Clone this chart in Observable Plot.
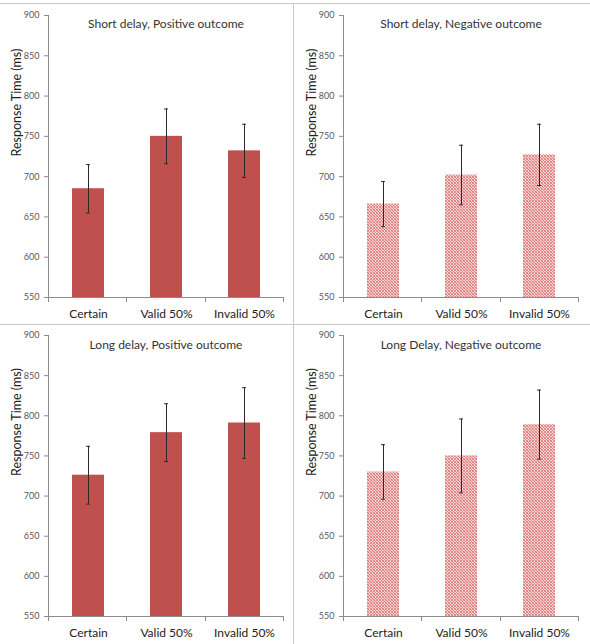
<!DOCTYPE html>
<html>
<head>
<meta charset="utf-8">
<script src="https://cdn.jsdelivr.net/npm/d3@7"></script>
<script src="https://cdn.jsdelivr.net/npm/@observablehq/plot@0.6"></script>
<style>
  html, body { margin: 0; padding: 0; background: #fff; }
  #wrap { position: relative; width: 590px; height: 644px; overflow: hidden; font-family: Lato, "Open Sans", sans-serif; }
  .panel { position: absolute; }
  .line { position: absolute; background: #c8c8c8; }
</style>
</head>
<body>
<div id="wrap">
  <div class="line" style="left:0;top:3px;width:590px;height:1px"></div>
  <div class="line" style="left:293px;top:3px;width:1px;height:641px"></div>
  <div class="line" style="left:0;top:324px;width:590px;height:1px"></div>
</div>
<script>
const categories = ["Certain", "Valid 50%", "Invalid 50%"];
const titles = ["Short delay, Positive outcome", "Short delay, Negative outcome", "Long delay, Positive outcome", "Long Delay, Negative outcome"];
const shortPosMean = [685, 750, 732];
const shortPosErr = [30, 34, 33];
const shortNegMean = [666, 702, 727];
const shortNegErr = [28, 37, 38];
const longPosMean = [726, 779, 791];
const longPosErr = [36, 36, 44];
const longNegMean = [730, 750, 789];
const longNegErr = [34, 46, 43];
const yTicks = [550, 600, 650, 700, 750, 800, 850, 900];
const yLabel = "Response Time (ms)";

const panels = [
  {title: titles[0], mean: shortPosMean, err: shortPosErr, patterned: false, left: 0, top: 0, width: 293, height: 324, ml: 48, mr: 10, mt: 15, mb: 27, titleDy: 4},
  {title: titles[1], mean: shortNegMean, err: shortNegErr, patterned: true, left: 293, top: 0, width: 297, height: 324, ml: 50, mr: 12, mt: 15, mb: 27, titleDy: 4},
  {title: titles[2], mean: longPosMean, err: longPosErr, patterned: false, left: 0, top: 324, width: 293, height: 320, ml: 48, mr: 10, mt: 11, mb: 28, titleDy: 5},
  {title: titles[3], mean: longNegMean, err: longNegErr, patterned: true, left: 293, top: 324, width: 297, height: 320, ml: 50, mr: 12, mt: 11, mb: 28, titleDy: 5}
];

const wrap = document.getElementById("wrap");
const paddingInner = 0.59;
const capWidth = 4;

panels.forEach((p, k) => {
  const data = categories.map((c, i) => ({cat: c, mean: p.mean[i], lo: p.mean[i] - p.err[i], hi: p.mean[i] + p.err[i]}));
  const pid = "checker" + k;
  const frameW = p.width - p.ml - p.mr;
  const bw = frameW / categories.length * (1 - paddingInner);
  const inset = (bw - capWidth) / 2;

  const defsMark = () => {
    const d = d3.create("svg:defs");
    const pat = d.append("pattern").attr("id", pid).attr("width", 3).attr("height", 3).attr("patternUnits", "userSpaceOnUse");
    pat.append("rect").attr("width", 3).attr("height", 3).attr("fill", "#f6d2d2");
    pat.append("rect").attr("x", 0).attr("y", 0).attr("width", 1).attr("height", 1).attr("fill", "#db7c7b");
    pat.append("rect").attr("x", 1).attr("y", 1).attr("width", 1).attr("height", 1).attr("fill", "#db7c7b");
    pat.append("rect").attr("x", 2).attr("y", 2).attr("width", 1).attr("height", 1).attr("fill", "#db7c7b");
    pat.append("rect").attr("x", 2).attr("y", 0).attr("width", 1).attr("height", 1).attr("fill", "#e69e9d");
    pat.append("rect").attr("x", 0).attr("y", 2).attr("width", 1).attr("height", 1).attr("fill", "#e69e9d");
    return d.node();
  };

  const axisDecor = (index, scales) => {
    const x = scales.x, y = scales.y;
    const g = d3.create("svg:g").attr("stroke", "#8c8c8c").attr("stroke-width", 1);
    const [r0, r1] = x.range();
    const n = categories.length;
    const step = (r1 - r0) / n;
    const y0 = y(yTicks[0]);
    const yTop = y(yTicks[yTicks.length - 1]);
    for (let i = 0; i <= n; i++) {
      const xx = Math.round(r0 + i * step) + 0.5;
      g.append("line").attr("x1", xx).attr("x2", xx).attr("y1", y0).attr("y2", y0 + 5);
    }
    const xl = Math.round(r0) + 0.5;
    g.append("line").attr("x1", xl).attr("x2", xl).attr("y1", yTop).attr("y2", y0);
    return g.node();
  };

  const chart = Plot.plot({
    width: p.width,
    height: p.height,
    marginLeft: p.ml,
    marginRight: p.mr,
    marginTop: p.mt,
    marginBottom: p.mb,
    style: {fontFamily: "Lato, 'Open Sans', sans-serif", background: "transparent", overflow: "visible"},
    x: {domain: categories, paddingInner: paddingInner, paddingOuter: paddingInner / 2, label: null},
    y: {domain: [550, 900], label: null},
    marks: [
      defsMark,
      Plot.barY(data, {x: "cat", y1: 550, y2: "mean", fill: p.patterned ? `url(#${pid})` : "#c0504d"}),
      Plot.ruleX(data, {x: "cat", y1: "lo", y2: "hi", stroke: "#2a2a2a", strokeWidth: 1}),
      Plot.tickY(data, {x: "cat", y: "hi", stroke: "#2a2a2a", insetLeft: inset, insetRight: inset}),
      Plot.tickY(data, {x: "cat", y: "lo", stroke: "#2a2a2a", insetLeft: inset, insetRight: inset}),
      Plot.ruleY([550], {stroke: "#8c8c8c"}),
      axisDecor,
      Plot.axisY({ticks: yTicks, tickSize: 4, tickPadding: 5, fontSize: 9, color: "#595959", stroke: "#8c8c8c", label: null}),
      Plot.axisX({tickSize: 0, tickPadding: 12, fontSize: 12, color: "#222", label: null}),
      Plot.text([yLabel], {frameAnchor: "left", dx: -32, rotate: -90, fontSize: 12.5, fill: "#222"}),
      Plot.text([p.title], {frameAnchor: "top", dy: p.titleDy, fontSize: 12, fill: "#333", lineAnchor: "top"})
    ]
  });
  chart.classList.add("panel");
  chart.style.left = p.left + "px";
  chart.style.top = p.top + "px";
  chart.style.position = "absolute";
  wrap.appendChild(chart);
});
</script>
</body>
</html>
